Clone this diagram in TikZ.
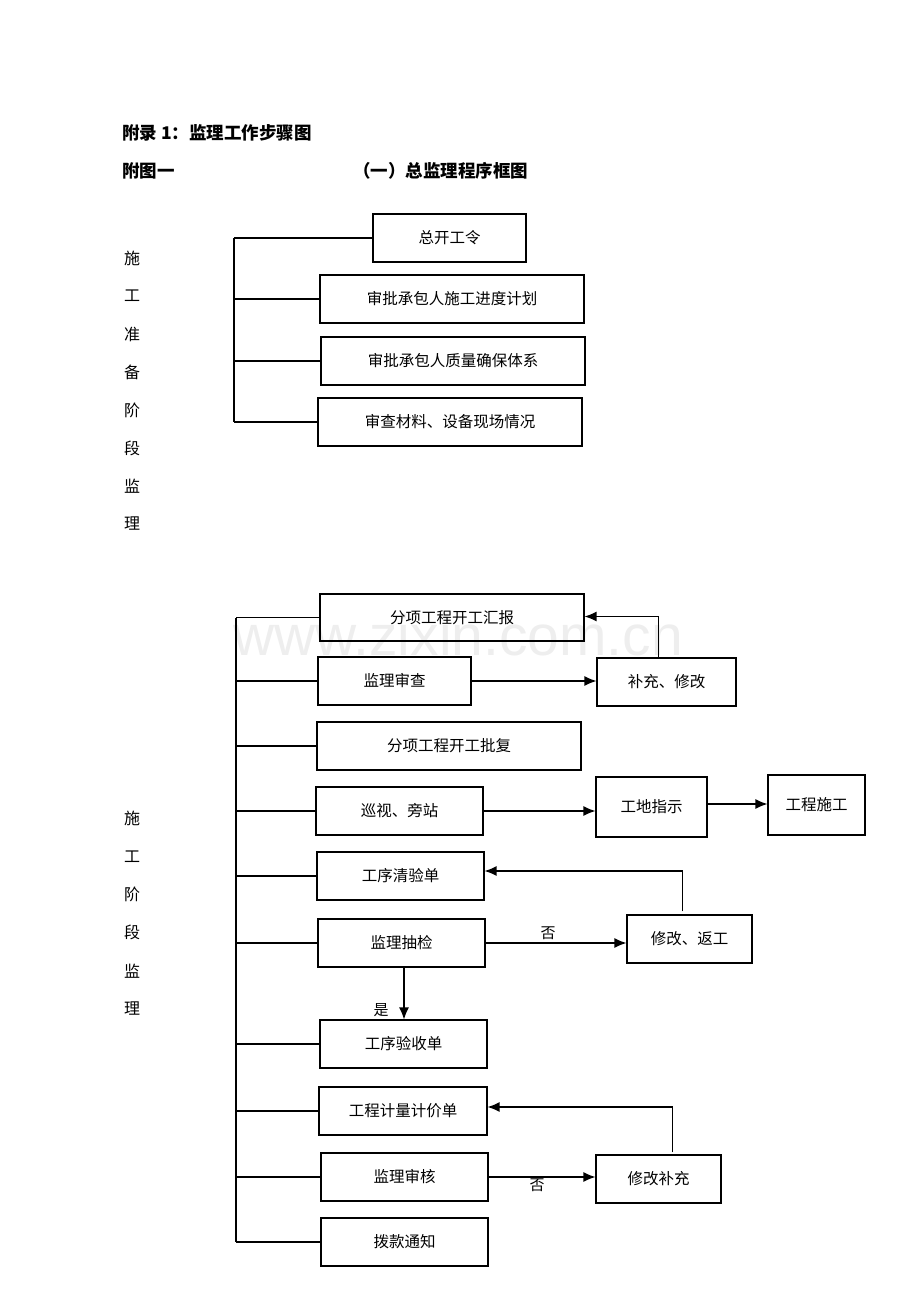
\documentclass[tikz,border=0pt]{standalone}
\usepackage{fontspec}
\setmainfont{Liberation Sans}
\newfontfamily\cjk{Noto Sans CJK SC}
\usetikzlibrary{arrows.meta}

\tikzset{every picture/.append style={x=1pt, y=-1pt}}
\tikzset{
  box/.style={draw, line width=1.1pt, minimum height=48pt, inner sep=0pt,
    font=\cjk\fontsize{15.5}{18}\selectfont},
  link/.style={line width=1.1pt},
  arr/.style={line width=1.3pt, -{Latex[length=12pt,width=10pt]}},
  side/.style={font=\cjk\fontsize{16}{18}\selectfont, inner sep=0pt},
  head/.style={font=\cjk\bfseries\fontsize{17.5}{20}\selectfont, anchor=west, inner sep=0pt},
  tag/.style={font=\cjk\fontsize{15}{17}\selectfont, inner sep=0pt}
}

\begin{document}
\begin{tikzpicture}
  \useasboundingbox (0,0) rectangle (920,1302);

  \node[text=gray!13, font=\fontsize{57}{60}\selectfont, anchor=base west, inner sep=0pt] (wm) at (233,655) {www.zixin.com.cn};

  \node[head] (t1) at (122,133) {附录 1：监理工作步骤图};
  \node[head] (t2) at (122,171) {附图一};
  \node[head] (t3) at (353,171) {（一）总监理程序框图};

  \foreach \c [count=\i] in {施,工,准,备,阶,段,监,理}
    \node[side] (pa\i) at (132,258+38*\i-38) {\c};
  \foreach \c [count=\i] in {施,工,阶,段,监,理}
    \node[side] (pb\i) at (132,818+38.2*\i-38.2) {\c};

  \node[box, minimum width=153pt] (kg) at (449.5,238) {总开工令};
  \node[box, minimum width=264pt] (jd) at (452,299) {审批承包人施工进度计划};
  \node[box, minimum width=264pt] (zl) at (453,361) {审批承包人质量确保体系};
  \node[box, minimum width=264pt] (cl) at (450,422) {审查材料、设备现场情况};

  \coordinate (r1) at (234,0);
  \draw[link] (kg.west -| r1) -- (cl.west -| r1);
  \foreach \n in {kg,jd,zl,cl}
    \draw[link] (\n.west) -- (\n.west -| r1);

  \node[box, minimum width=264pt, minimum height=47pt] (hb) at (452,617.5) {分项工程开工汇报};
  \node[box, minimum width=153pt] (sc) at (394.5,681) {监理审查};
  \node[box, minimum width=139pt] (bc) at (666.5,682) {补充、修改};
  \node[box, minimum width=264pt] (pf) at (449,746) {分项工程开工批复};
  \node[box, minimum width=167pt] (xs) at (399.5,811) {巡视、旁站};
  \node[box, minimum width=111pt, minimum height=60pt] (gd) at (651.5,807) {工地指示};
  \node[box, minimum width=97pt, minimum height=60pt] (gc) at (816.5,805) {工程施工};
  \node[box, minimum width=167pt] (qy) at (400.5,876) {工序清验单};
  \node[box, minimum width=167pt] (cj) at (401.5,943) {监理抽检};
  \node[box, minimum width=125pt] (fg) at (689.5,939) {修改、返工};
  \node[box, minimum width=167pt] (ys) at (403.5,1044) {工序验收单};
  \node[box, minimum width=168pt] (jj) at (403,1111) {工程计量计价单};
  \node[box, minimum width=167pt] (sh) at (404.5,1177) {监理审核};
  \node[box, minimum width=125pt] (bx) at (658.5,1179) {修改补充};
  \node[box, minimum width=167pt] (bk) at (404.5,1242) {拨款通知};

  \coordinate (r2) at (236,0);
  \draw[link] (hb.west -| r2) -- (bk.west -| r2);
  \foreach \n in {hb,sc,pf,xs,qy,cj,ys,jj,sh,bk}
    \draw[link] (\n.west) -- (\n.west -| r2);

  \draw[arr] (sc.east) -- (sc.east -| bc.west);
  \draw[arr] ([xshift=-8pt]bc.north) |- ([yshift=1pt]hb.east);
  \draw[arr] (xs.east) -- (xs.east -| gd.west);
  \draw[arr] ([yshift=3pt]gd.east) -- ([yshift=3pt]gd.east -| gc.west);
  \draw[arr] ([xshift=-7pt,yshift=3pt]fg.north) |- ([yshift=5pt]qy.east);
  \draw[arr] (cj.east) -- (cj.east -| fg.west);
  \draw[arr] ([xshift=2.5pt]cj.south) -- ([xshift=2.5pt]cj.south |- ys.north);
  \draw[arr] ([xshift=14pt,yshift=2pt]bx.north) |- ([yshift=4pt]jj.east);
  \draw[arr] (sh.east) -- (sh.east -| bx.west);

  \node[tag] (no1) at (548,933) {否};
  \node[tag] (yes) at (381,1010) {是};
  \node[tag] (no2) at (537,1185) {否};
\end{tikzpicture}
\end{document}
